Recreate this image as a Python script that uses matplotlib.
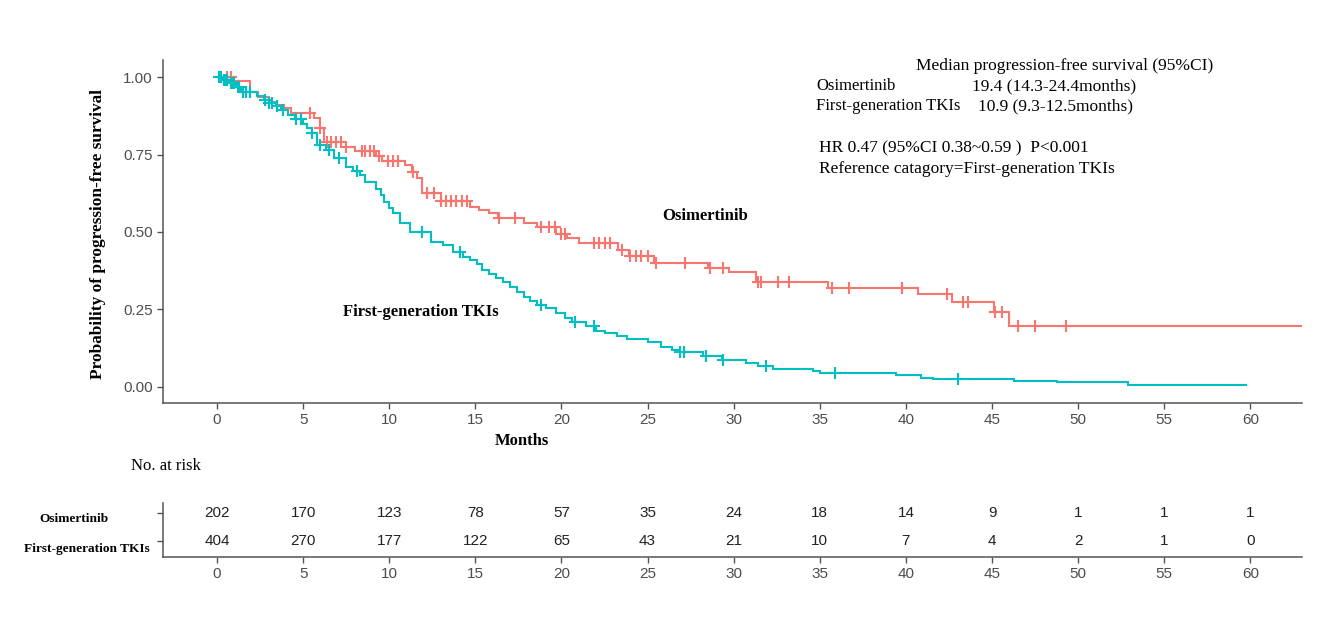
import numpy as np
import matplotlib
matplotlib.use("Agg")
import matplotlib.pyplot as plt

# ---------------- data ----------------
# Osimertinib KM step function (time of drop, survival after drop)
osi_times = [0, 0.9, 1.9, 2.4, 3.0, 3.5, 3.9, 4.3, 5.6, 6.0, 6.2, 7.5, 8.0, 9.2, 9.6,
             10.9, 11.3, 11.6, 11.9, 13.0, 14.7, 15.2, 15.8, 16.3, 17.8, 18.6, 19.7,
             20.3, 21.0, 23.3, 23.9, 25.4, 28.5, 29.7, 31.3, 35.5, 40.7, 42.7, 45.1, 46.0]
osi_surv = [1.0, 0.988, 0.953, 0.935, 0.92, 0.91, 0.899, 0.883, 0.868, 0.835, 0.79,
            0.775, 0.762, 0.745, 0.73, 0.715, 0.695, 0.673, 0.625, 0.60, 0.582, 0.571,
            0.56, 0.544, 0.528, 0.515, 0.495, 0.48, 0.463, 0.442, 0.422, 0.40, 0.385,
            0.371, 0.34, 0.32, 0.299, 0.274, 0.242, 0.196]
osi_end = 63.0
osi_censor = [0.6, 0.8, 5.4, 6.0, 6.4, 6.6, 6.9, 7.2, 7.5, 8.4, 8.6, 8.9, 9.1, 9.4, 9.9,
              10.2, 10.5, 11.4, 12.2, 12.6, 13.0, 13.3, 13.6, 13.9, 14.2, 14.5, 16.4,
              17.3, 18.8, 19.3, 19.6, 20.0, 20.2, 21.9, 22.2, 22.5, 22.8, 23.5, 24.0,
              24.3, 24.6, 25.0, 25.5, 27.2, 28.6, 29.4, 31.4, 31.6, 32.6, 33.2, 35.7,
              36.7, 39.8, 42.4, 43.3, 43.6, 45.2, 45.6, 46.5, 47.5, 49.3]

# First-generation TKIs KM step function
tki_times = [0, 0.3, 0.7, 1.1, 1.4, 2.3, 2.7, 3.0, 3.4, 3.7, 4.1, 4.5, 5.0, 5.2, 5.5,
             5.8, 6.3, 6.8, 7.5, 7.9, 8.3, 8.6, 9.2, 9.5, 9.7, 10.0, 10.2, 10.6, 11.2,
             12.4, 13.1, 13.7, 14.3, 14.7, 15.1, 15.4, 15.8, 16.2, 16.6, 17.0, 17.4,
             17.8, 18.2, 18.6, 19.1, 19.7, 20.2, 20.6, 21.4, 22.0, 22.5, 23.2, 23.8,
             25.0, 25.8, 26.4, 26.8, 28.2, 29.3, 30.7, 31.4, 32.3, 34.6, 35.0, 39.4,
             40.9, 41.6, 46.3, 48.8, 52.9]
tki_surv = [1.0, 0.99, 0.98, 0.969, 0.953, 0.94, 0.925, 0.915, 0.905, 0.894, 0.877,
            0.866, 0.85, 0.834, 0.818, 0.78, 0.765, 0.738, 0.711, 0.697, 0.684, 0.662,
            0.64, 0.62, 0.598, 0.578, 0.56, 0.528, 0.501, 0.469, 0.458, 0.436, 0.42,
            0.41, 0.395, 0.377, 0.363, 0.35, 0.337, 0.323, 0.307, 0.291, 0.278, 0.265,
            0.254, 0.238, 0.222, 0.211, 0.195, 0.181, 0.175, 0.165, 0.154, 0.146, 0.130,
            0.119, 0.112, 0.100, 0.087, 0.076, 0.068, 0.057, 0.052, 0.046, 0.037, 0.030,
            0.027, 0.019, 0.015, 0.0075]
tki_end = 59.75
tki_censor = [0.1, 0.2, 0.4, 0.5, 0.6, 0.8, 0.9, 1.0, 1.2, 1.3, 1.5, 1.7, 1.9, 2.8, 3.0,
              3.2, 3.5, 3.8, 4.6, 4.9, 5.5, 6.0, 6.5, 7.1, 8.1, 11.9, 14.1, 18.8, 20.8,
              21.9, 26.9, 27.1, 28.4, 29.4, 31.9, 35.9, 43.0]

risk_times = [0, 5, 10, 15, 20, 25, 30, 35, 40, 45, 50, 55, 60]
risk_osi = [202, 170, 123, 78, 57, 35, 24, 18, 14, 9, 1, 1, 1]
risk_tki = [404, 270, 177, 122, 65, 43, 21, 10, 7, 4, 2, 1, 0]

y_ticks = [0.0, 0.25, 0.5, 0.75, 1.0]
y_ticklabels = ["0.00", "0.25", "0.50", "0.75", "1.00"]
x_ticks = list(range(0, 61, 5))

RED = "#F8766D"
CYAN = "#00BFC4"
SERIF = "Liberation Serif"
SANS = "Liberation Sans"
TICKC = "#4D4D4D"
SPINEC = "#555555"

W, H = 1335, 633
fig = plt.figure(figsize=(W / 100, H / 100), dpi=100)


def fx(px):
    return px / W


def fy(py):
    return 1 - py / H


# ---------------- main KM axes ----------------
ax = fig.add_axes([fx(163), fy(403), fx(1302) - fx(163), fy(60) - fy(403)])


def draw_km(times, surv, end, censor, color):
    t = np.array(times + [end])
    s = np.array(surv + [surv[-1]])
    ax.step(t, s, where="post", color=color, lw=1.5, solid_joinstyle="miter")
    idx = np.searchsorted(np.array(times), np.array(censor), side="right") - 1
    cy = np.array(surv)[idx]
    ax.plot(censor, cy, ls="none", marker="+", ms=8, mew=1.5, color=color)


draw_km(osi_times, osi_surv, osi_end, osi_censor, RED)
draw_km(tki_times, tki_surv, tki_end, tki_censor, CYAN)

ax.set_xlim(-3.14, 63.0)
ax.set_ylim(-0.052, 1.055)
ax.set_xticks(x_ticks)
ax.set_yticks(y_ticks)
ax.set_yticklabels(y_ticklabels)
for sp in ["top", "right"]:
    ax.spines[sp].set_visible(False)
for sp in ["left", "bottom"]:
    ax.spines[sp].set_color(SPINEC)
    ax.spines[sp].set_linewidth(1.1)
ax.tick_params(axis="both", colors=SPINEC, labelcolor=TICKC, length=4, width=1.0,
               labelsize=11)
for lab in ax.get_xticklabels() + ax.get_yticklabels():
    lab.set_family(SANS)

fig.text(fx(705), fy(216), "Osimertinib", ha="center", va="center", family=SERIF,
         fontweight="bold", fontsize=12)
fig.text(fx(421), fy(312), "First-generation TKIs", ha="center", va="center",
         family=SERIF, fontweight="bold", fontsize=12)
fig.text(fx(98), fy(234), "Probability of progression-free survival", ha="center",
         va="center", rotation=90, family=SERIF, fontweight="bold", fontsize=12.4)
fig.text(fx(522), fy(441), "Months", ha="center", va="center", family=SERIF,
         fontweight="bold", fontsize=12)

# annotation block
ann_kw = dict(family=SERIF, va="center", ha="left", color="black")
fig.text(fx(916), fy(66), "Median progression-free survival (95%CI)", fontsize=12.5,
         **ann_kw)
fig.text(fx(816), fy(86), "Osimertinib", fontsize=12, **ann_kw)
fig.text(fx(972), fy(86), "19.4 (14.3-24.4months)", fontsize=12.5, **ann_kw)
fig.text(fx(816), fy(106), "First-generation TKIs", fontsize=12, **ann_kw)
fig.text(fx(978), fy(106), "10.9 (9.3-12.5months)", fontsize=12.5, **ann_kw)
fig.text(fx(819), fy(148), "HR 0.47 (95%CI 0.38~0.59 )  P<0.001", fontsize=12.5,
         **ann_kw)
fig.text(fx(819), fy(169), "Reference catagory=First-generation TKIs", fontsize=12.5,
         **ann_kw)

# ---------------- risk table ----------------
fig.text(fx(131), fy(466), "No. at risk", family=SERIF, fontsize=12, va="center",
         ha="left")
rax = fig.add_axes([fx(163), fy(557), fx(1302) - fx(163), fy(503) - fy(557)])
rax.set_xlim(-3.14, 63.0)
rax.set_ylim(0.45, 2.36)
rows = [(2, risk_osi), (1, risk_tki)]
for yrow, vals in rows:
    for t, v in zip(risk_times, vals):
        rax.text(t, yrow, str(v), ha="center", va="center", family=SANS,
                 fontsize=11, color="#222222")
rax.set_xticks(x_ticks)
rax.set_yticks([2, 1])
rax.set_yticklabels(["", ""])
for sp in ["top", "right"]:
    rax.spines[sp].set_visible(False)
for sp in ["left", "bottom"]:
    rax.spines[sp].set_color(SPINEC)
    rax.spines[sp].set_linewidth(1.1)
rax.tick_params(axis="both", colors=SPINEC, labelcolor=TICKC, length=4, width=1.0,
                labelsize=11)
for lab in rax.get_xticklabels():
    lab.set_family(SANS)

fig.text(fx(74), fy(519), "Osimertinib", ha="center", va="center", family=SERIF,
         fontweight="bold", fontsize=9.6)
fig.text(fx(87), fy(549), "First-generation TKIs", ha="center", va="center",
         family=SERIF, fontweight="bold", fontsize=9.6)

fig.savefig("out.png", dpi=100)
